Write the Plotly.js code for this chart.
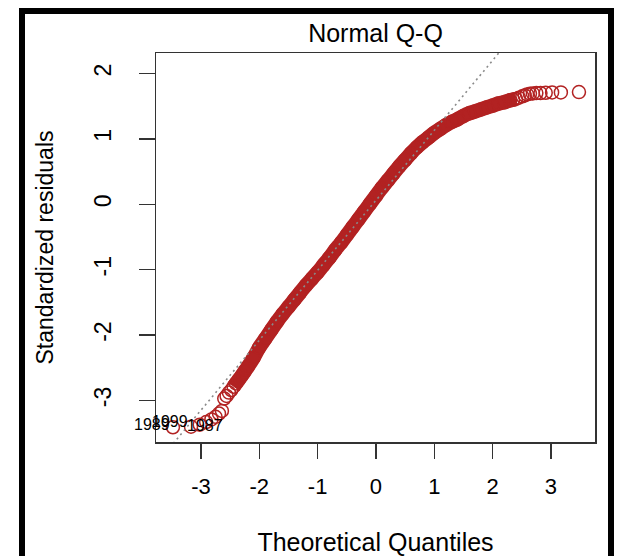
<!DOCTYPE html>
<html>
<head>
<meta charset="utf-8">
<script src="https://cdn.plot.ly/plotly-3.0.1.min.js"></script>
<style>
  html, body { margin: 0; padding: 0; background: #fff; width: 622px; height: 556px; overflow: hidden; }
  #frame { position: absolute; left: 19px; top: 8px; width: 595px; height: 620px; border: 6px solid #000; box-sizing: border-box; }
  #chart { position: absolute; left: 0; top: 0; width: 622px; height: 556px; }
</style>
</head>
<body>
<div id="frame"></div>
<div id="chart"></div>
<script>
// Theoretical quantiles (x) and standardized residuals (y)
var qx = [-3.48, -3.17, -3.02, -2.91, -2.82, -2.75, -2.69, -2.64,
  -2.60, -2.56, -2.52, -2.48, -2.44, -2.40, -2.35, -2.30, -2.25, -2.20, -2.10, -2.00,
  -1.90, -1.80, -1.70, -1.60, -1.50, -1.40, -1.30, -1.20, -1.10, -1.00,
  -0.90, -0.80, -0.70, -0.60, -0.50, -0.40, -0.30, -0.20, -0.10, 0.00,
  0.10, 0.20, 0.30, 0.40, 0.50, 0.60, 0.70, 0.80, 0.90, 1.00,
  1.10, 1.20, 1.30, 1.40, 1.50, 1.60, 1.70, 1.80, 1.90, 2.00,
  2.10, 2.20, 2.30, 2.35, 2.40, 2.45, 2.51, 2.55, 2.59, 2.64,
  2.69, 2.75, 2.82, 2.91, 3.02, 3.17, 3.48];
var qy = [-3.41, -3.40, -3.37, -3.33, -3.29, -3.25, -3.20, -3.16,
  -2.97, -2.93, -2.88, -2.84, -2.79, -2.74, -2.68, -2.62, -2.555, -2.49, -2.35, -2.19,
  -2.06, -1.93, -1.80, -1.68, -1.57, -1.46, -1.35, -1.24, -1.14, -1.04,
  -0.93, -0.82, -0.70, -0.59, -0.47, -0.35, -0.23, -0.11, 0.01, 0.13,
  0.25, 0.36, 0.47, 0.58, 0.68, 0.78, 0.87, 0.95, 1.02, 1.09,
  1.15, 1.21, 1.26, 1.30, 1.35, 1.39, 1.42, 1.45, 1.48, 1.51,
  1.54, 1.56, 1.59, 1.60, 1.61, 1.63, 1.65, 1.665, 1.68, 1.69,
  1.695, 1.70, 1.70, 1.705, 1.71, 1.71, 1.715];

// Labelled extreme points
var idLabels = ["1989", "1999", "1987"];
var idX = [-3.50, -3.19, -2.59];
var idY = [-3.37, -3.32, -3.38];

// Reference line (qqline)
var lineSlope = 1.07;
var lineIntercept = 0.06;
var lineX = [-4.5, 4.5];
var lineY = lineX.map(function (v) { return lineIntercept + lineSlope * v; });

var xTicks = [-3, -2, -1, 0, 1, 2, 3];
var yTicks = [-3, -2, -1, 0, 1, 2];

var red = '#b22222';
var font = 'Liberation Sans, Arial, sans-serif';

// dense part of the band (heavy overlap of circles)
var bandX = [], bandY = [];
for (var i = 0; i < qx.length; i++) {
  if (qx[i] >= -2.46 && qx[i] <= 2.42) { bandX.push(qx[i]); bandY.push(qy[i]); }
}

var traces = [
  { x: bandX, y: bandY, mode: 'lines', line: { color: red, width: 14.5, shape: 'spline' },
    hoverinfo: 'skip', showlegend: false },
  { x: qx, y: qy, mode: 'markers', type: 'scatter',
    marker: { symbol: 'circle-open', size: 13, color: red, line: { color: red, width: 1.5 } },
    showlegend: false },
  { x: lineX, y: lineY, mode: 'lines', line: { color: '#8a8a8a', width: 1.6, dash: '2px,3.5px' },
    hoverinfo: 'skip', showlegend: false }
];

var annotations = idLabels.map(function (t, k) {
  return { x: idX[k], y: idY[k], xref: 'x', yref: 'y', text: t, showarrow: false,
    xanchor: 'right', yanchor: 'middle', font: { family: font, size: 16, color: '#000' } };
});

var layout = {
  width: 622, height: 556,
  margin: { l: 156, r: 27, t: 53, b: 114 },
  paper_bgcolor: 'rgba(0,0,0,0)',
  plot_bgcolor: 'rgba(0,0,0,0)',
  showlegend: false,
  title: { text: 'Normal Q-Q', font: { family: font, size: 25, color: '#000' },
    x: 0.5, xref: 'paper', xanchor: 'center', y: 1 - 33 / 556, yanchor: 'middle' },
  xaxis: {
    range: [-3.77, 3.755], tickvals: xTicks, ticktext: xTicks.map(String),
    showgrid: false, zeroline: false, showline: true, mirror: true,
    linecolor: '#333', linewidth: 1.5, ticks: 'outside', ticklen: 15, tickwidth: 1.5, tickcolor: '#333',
    tickfont: { family: font, size: 22, color: '#000' }, ticklabelstandoff: 9,
    title: { text: 'Theoretical Quantiles', font: { family: font, size: 25, color: '#000' }, standoff: 36 }
  },
  yaxis: {
    range: [-3.635, 2.313], tickvals: yTicks, ticktext: yTicks.map(String),
    showgrid: false, zeroline: false, showline: true, mirror: true,
    linecolor: '#333', linewidth: 1.5, ticks: 'outside', ticklen: 16, tickwidth: 1.5, tickcolor: '#333',
    tickangle: -90,
    tickfont: { family: font, size: 23, color: '#000' }, ticklabelstandoff: 18,
    title: { text: 'Standardized residuals', font: { family: font, size: 23, color: '#000' }, standoff: 30 }
  },
  annotations: annotations
};

Plotly.newPlot('chart', traces, layout, { displayModeBar: false, staticPlot: true });
</script>
</body>
</html>
